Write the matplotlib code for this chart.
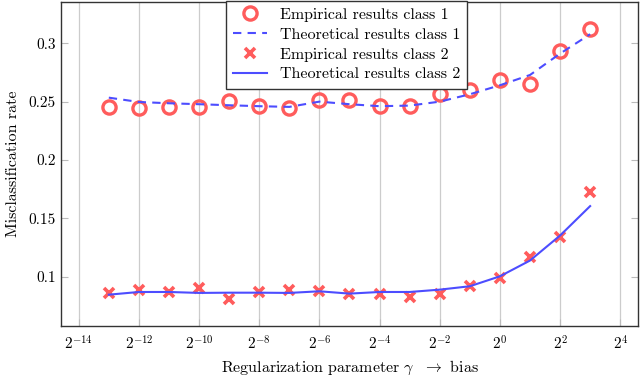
import numpy as np
import matplotlib
matplotlib.use('Agg')
import matplotlib.pyplot as plt

plt.rcParams['font.family'] = 'serif'
plt.rcParams['font.serif'] = ['cmr10']
plt.rcParams['mathtext.fontset'] = 'cm'
plt.rcParams['axes.formatter.use_mathtext'] = True

# Data
exponents = np.arange(-13, 4)
gamma = 2.0 ** exponents

emp_class1 = [0.2455, 0.2443, 0.2455, 0.2455, 0.2506, 0.2461, 0.2449, 0.2517, 0.2517,
              0.2461, 0.2461, 0.2568, 0.2600, 0.2686, 0.2654, 0.2934, 0.3125]
theo_class1 = [0.2534, 0.2497, 0.2486, 0.2478, 0.2469, 0.2461, 0.2455, 0.2500, 0.2478,
               0.2461, 0.2466, 0.2500, 0.2563, 0.2640, 0.2728, 0.2911, 0.3077]
emp_class2 = [0.0863, 0.0885, 0.0871, 0.0908, 0.0811, 0.0874, 0.0891, 0.0880, 0.0851,
              0.0857, 0.0825, 0.0857, 0.0925, 0.0988, 0.1168, 0.1340, 0.1723]
theo_class2 = [0.0848, 0.0871, 0.0871, 0.0863, 0.0865, 0.0865, 0.0863, 0.0877, 0.0857,
               0.0871, 0.0871, 0.0891, 0.0920, 0.1005, 0.1140, 0.1354, 0.1606]

xticks = 2.0 ** np.arange(-14, 5, 2)
yticks = [0.1, 0.15, 0.2, 0.25, 0.3]

red = '#ff5c5c'
blue = '#4d4dff'

fig = plt.figure(figsize=(6.4, 3.75), dpi=100)
ax = fig.add_axes([0.0948, 0.1307, 0.9025, 0.865])

ax.plot(gamma, emp_class1, 'o', ms=9.5, mfc='none', mec=red, mew=2.4,
        label='Empirical results class 1')
ax.plot(gamma, theo_class1, '--', color=blue, lw=1.5, dashes=(4, 3),
        label='Theoretical results class 1')
ax.plot(gamma, emp_class2, 'x', ms=6.5, mec=red, mew=2.6,
        label='Empirical results class 2')
ax.plot(gamma, theo_class2, '-', color=blue, lw=1.5,
        label='Theoretical results class 2')

ax.set_xscale('log', base=2)
ax.set_xlim(2.0 ** -14.6, 2.0 ** 4.6)
ax.set_ylim(0.058, 0.3356)
ax.set_xticks(xticks)
ax.minorticks_off()
ax.set_yticks(yticks)
ax.set_yticklabels(['0.1', '0.15', '0.2', '0.25', '0.3'])

ax.grid(axis='x', color='#cccccc', lw=0.9)
ax.tick_params(axis='both', direction='in', color='#bbbbbb', length=5,
               labelsize=11, right=True, top=False)
ax.tick_params(axis='x', pad=6)
for s in ax.spines.values():
    s.set_color('#333333')
    s.set_linewidth(1.0)

ax.set_xlabel(r'Regularization parameter $\gamma$  $\rightarrow$ bias', fontsize=11.5)
ax.set_ylabel('Misclassification rate', fontsize=11.5)
ax.yaxis.set_label_coords(-0.071, 0.5)

leg = ax.legend(loc='upper center', bbox_to_anchor=(0.495, 1.003), borderaxespad=0,
                fancybox=False, framealpha=1, edgecolor='#333333', fontsize=11.5,
                handlelength=2.1, labelspacing=0.35, borderpad=0.45)
leg.get_frame().set_linewidth(1.0)

fig.savefig('out.png', dpi=100)
